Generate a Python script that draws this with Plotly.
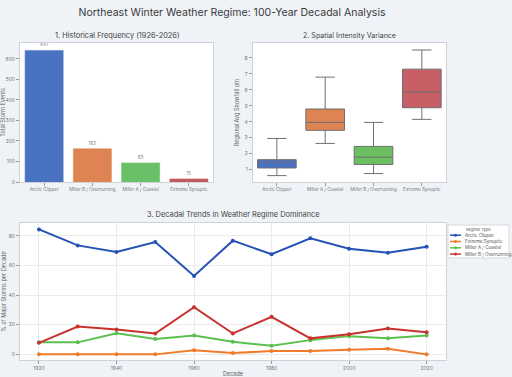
import plotly.graph_objects as go

# ---- Data ----
bar_categories = ["Arctic Clipper", "Miller B / Overrunning", "Miller A / Coastal", "Extreme Synoptic"]
bar_counts = [641, 162, 93, 15]
bar_colors = ["#4a72c2", "#dd8452", "#6abf69", "#c45a5e"]

box_categories = ["Arctic Clipper", "Miller A / Coastal", "Miller B / Overrunning", "Extreme Synoptic"]
box_lower = [0.62, 2.64, 0.75, 4.15]
box_q1 = [1.10, 3.46, 1.32, 4.88]
box_median = [1.46, 3.96, 1.78, 5.87]
box_q3 = [1.62, 4.80, 2.45, 7.30]
box_upper = [2.95, 6.80, 3.96, 8.50]
box_colors = ["#4a72c4", "#dd8452", "#6abf60", "#c95f66"]

decades = [1920, 1930, 1940, 1950, 1960, 1970, 1980, 1990, 2000, 2010, 2020]
arctic_clipper = [84.3, 73.5, 69.0, 75.8, 52.9, 76.7, 67.5, 78.3, 71.3, 68.6, 72.6]
extreme_synoptic = [0.0, 0.0, 0.0, 0.0, 2.7, 0.9, 2.2, 2.2, 3.1, 3.8, 0.0]
miller_a = [8.1, 8.1, 14.3, 10.3, 12.8, 8.5, 5.8, 9.6, 12.3, 10.8, 12.8]
miller_b = [7.8, 18.8, 16.8, 14.1, 31.8, 14.1, 25.3, 10.8, 13.5, 17.5, 15.0]
line_names = ["Arctic Clipper", "Extreme Synoptic", "Miller A / Coastal", "Miller B / Overrunning"]
line_colors = ["#2452b5", "#f07b2a", "#5cc04f", "#c8322e"]
legend_title = "Regime Type"

W, H = 512, 377
FONT = "Inter"
TICK = dict(family=FONT, size=5, color="#777777")
XTICK = dict(family=FONT, size=4.5, color="#777777")

fig = go.Figure()

fig.add_trace(go.Bar(
    x=bar_categories, y=bar_counts, marker=dict(color=bar_colors, line=dict(color=bar_colors, width=0.5)),
    text=[str(v) for v in bar_counts], textposition="outside",
    textfont=dict(family=FONT, size=4.5, color="#777777"), cliponaxis=False,
    xaxis="x", yaxis="y", showlegend=False, width=0.79))

for i, c in enumerate(box_categories):
    fig.add_trace(go.Box(
        x=[c], lowerfence=[box_lower[i]], q1=[box_q1[i]], median=[box_median[i]],
        q3=[box_q3[i]], upperfence=[box_upper[i]],
        fillcolor=box_colors[i], line=dict(color="#6f6f6f", width=1),
        whiskerwidth=0.5, width=0.8, xaxis="x2", yaxis="y2", showlegend=False))

for name, vals, col in zip(line_names, [arctic_clipper, extreme_synoptic, miller_a, miller_b], line_colors):
    fig.add_trace(go.Scatter(
        x=decades, y=vals, mode="lines+markers", name=name,
        line=dict(color=col, width=2), marker=dict(color=col, size=4),
        xaxis="x3", yaxis="y3", showlegend=False))

def ax(**kw):
    base = dict(showline=True, mirror=True, linecolor="#cfd3d9", linewidth=1,
                ticks="outside", ticklen=3, tickcolor="#999999", tickfont=TICK,
                showgrid=False, zeroline=False, automargin=False)
    base.update(kw)
    return base

def px(x):
    return x / W

def py(y):
    return 1 - y / H

TF = dict(family=FONT, size=5.5, color="#666666")

# Compact legend (styling only) drawn in paper coordinates
shapes = [dict(type="rect", xref="paper", yref="paper", x0=px(448), x1=px(509), y0=py(258), y1=py(225),
               fillcolor="white", line=dict(color="#d5d8dd", width=1), layer="above")]
annotations = [dict(text=legend_title, x=px(478), y=py(229.5), xref="paper", yref="paper", showarrow=False,
                    xanchor="center", yanchor="middle",
                    font=dict(family=FONT, size=4, color="#555555"))]
legend_rows = [235.2, 241.5, 247.8, 254.1]
for name, col, ry in zip(line_names, line_colors, legend_rows):
    shapes.append(dict(type="line", xref="paper", yref="paper", x0=px(450), x1=px(461), y0=py(ry), y1=py(ry),
                       line=dict(color=col, width=1.5), layer="above"))
    shapes.append(dict(type="circle", xref="paper", yref="paper", x0=px(454), x1=px(457), y0=py(ry + 1.5),
                       y1=py(ry - 1.5), fillcolor=col, line=dict(color=col, width=0), layer="above"))
    annotations.append(dict(text=name, x=px(463), y=py(ry), xref="paper", yref="paper", showarrow=False,
                            xanchor="left", yanchor="middle", font=dict(family=FONT, size=4.5, color="#555555")))

annotations += [
    dict(text="1. Historical Frequency (1926-2026)", x=px(117), y=py(35.5), xref="paper", yref="paper",
         xanchor="center", yanchor="middle",
         showarrow=False, font=dict(family=FONT, size=7.4, color="#444444")),
    dict(text="2. Spatial Intensity Variance", x=px(349), y=py(35.5), xref="paper", yref="paper",
         xanchor="center", yanchor="middle",
         showarrow=False, font=dict(family=FONT, size=7.1, color="#444444")),
    dict(text="3. Decadal Trends in Weather Regime Dominance", x=px(233), y=py(214.5), xref="paper", yref="paper",
         xanchor="center", yanchor="middle",
         showarrow=False, font=dict(family=FONT, size=7.4, color="#444444")),
]

fig.update_layout(
    width=W, height=H, margin=dict(l=0, r=0, t=0, b=0, autoexpand=False),
    paper_bgcolor="#eff2f7", plot_bgcolor="white",
    font=dict(family=FONT, color="#444444"),
    showlegend=False,
    xaxis=ax(domain=[px(20), px(213)], range=[-0.5, 3.5], anchor="y", tickangle=0, tickfont=XTICK),
    yaxis=ax(domain=[py(182), py(43)], range=[0, 677], dtick=100, anchor="x",
             title=dict(text="Total Storm Events", font=TF, standoff=4)),
    xaxis2=ax(domain=[px(252.7), px(446)], range=[-0.5, 3.5], anchor="y2", tickangle=0, tickfont=XTICK),
    yaxis2=ax(domain=[py(182), py(43)], range=[0.22, 8.94], dtick=1, anchor="x2",
              title=dict(text="Regional Avg Snowfall (in)", font=TF, standoff=4)),
    xaxis3=ax(domain=[px(20), px(446)], range=[1915.1, 2025], dtick=20, anchor="y3",
              showgrid=True, gridcolor="#ebebeb", tickangle=0,
              title=dict(text="Decade", font=TF, standoff=3)),
    yaxis3=ax(domain=[py(360), py(223)], range=[-3.8, 88.6], dtick=20, anchor="x3",
              showgrid=True, gridcolor="#ebebeb",
              title=dict(text="% of Major Storms per Decade", font=TF, standoff=4)),
    title=dict(text="Northeast Winter Weather Regime: 100-Year Decadal Analysis",
               x=px(232), xanchor="center", y=py(12), yanchor="middle",
               font=dict(family=FONT, size=10.5, color="#3a3a3a")),
    shapes=shapes,
    annotations=annotations,
)

fig.write_html("out.html", config={"displayModeBar": False},
               post_script="document.body.style.margin='0';document.body.style.padding='0';")
